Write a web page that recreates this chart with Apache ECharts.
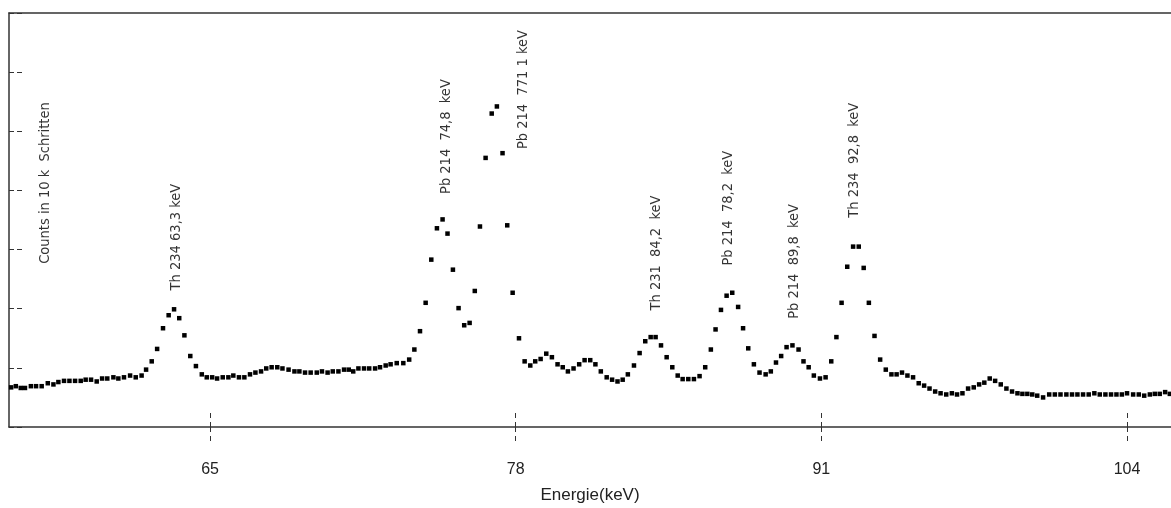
<!DOCTYPE html>
<html>
<head>
<meta charset="utf-8">
<script src="https://cdn.jsdelivr.net/npm/echarts@6/dist/echarts.min.js"></script>
<style>
html,body{margin:0;padding:0;background:#fff;}
#chart{width:1171px;height:508px;}
</style>
</head>
<body>
<div id="chart"></div>
<script>
const energies = [
  56.54,56.74,56.95,57.13,57.38,57.60,57.84,58.10,58.34,58.55,58.79,59.02,59.26,59.50,59.71,59.94,60.18,60.41,60.63,60.89,
  61.10,61.34,61.60,61.84,62.09,62.28,62.52,62.75,63.00,63.24,63.47,63.69,63.91,64.16,64.40,64.65,64.86,65.09,65.30,65.54,
  65.78,65.99,66.23,66.46,66.70,66.93,67.17,67.39,67.62,67.86,68.08,68.34,68.59,68.80,69.04,69.28,69.54,69.76,70.00,70.22,
  70.46,70.70,70.90,71.09,71.31,71.55,71.77,72.02,72.23,72.47,72.68,72.94,73.22,73.47,73.69,73.93,74.17,74.41,74.65,74.89,
  75.10,75.33,75.57,75.81,76.04,76.26,76.48,76.72,76.98,77.20,77.44,77.64,77.87,78.14,78.38,78.62,78.83,79.06,79.30,79.54,
  79.78,80.00,80.22,80.46,80.70,80.93,81.17,81.39,81.62,81.87,82.10,82.33,82.55,82.77,83.03,83.27,83.51,83.74,83.95,84.18,
  84.42,84.66,84.89,85.10,85.34,85.58,85.82,86.06,86.30,86.50,86.73,86.97,87.21,87.46,87.67,87.89,88.13,88.37,88.63,88.85,
  89.07,89.29,89.52,89.77,90.03,90.24,90.46,90.68,90.94,91.18,91.42,91.64,91.86,92.10,92.35,92.59,92.80,93.02,93.26,93.50,
  93.74,93.98,94.20,94.43,94.66,94.90,95.14,95.37,95.60,95.84,96.07,96.31,96.55,96.77,97.00,97.24,97.48,97.71,97.93,98.16,
  98.39,98.63,98.87,99.11,99.34,99.55,99.76,99.97,100.18,100.43,100.69,100.93,101.17,101.42,101.66,101.89,102.13,102.37,102.61,102.84,
  103.08,103.32,103.55,103.78,104.00,104.26,104.50,104.73,104.97,105.18,105.39,105.62,105.82
];
// Counts in 10 k steps
const counts = [
  0.67,0.69,0.66,0.66,0.69,0.69,0.69,0.74,0.72,0.76,0.78,0.78,0.78,0.78,0.80,0.80,0.77,0.82,0.82,0.84,
  0.82,0.84,0.87,0.84,0.87,0.97,1.11,1.32,1.67,1.89,1.99,1.84,1.55,1.20,1.03,0.89,0.84,0.84,0.82,0.84,
  0.84,0.87,0.84,0.84,0.89,0.92,0.94,0.99,1.01,1.01,0.99,0.97,0.94,0.94,0.92,0.92,0.92,0.94,0.92,0.94,
  0.94,0.97,0.97,0.94,0.99,0.99,0.99,0.99,1.01,1.04,1.06,1.08,1.08,1.14,1.31,1.62,2.10,2.83,3.36,3.51,
  3.27,2.66,2.01,1.72,1.76,2.30,3.39,4.55,5.30,5.42,4.63,3.41,2.27,1.50,1.11,1.04,1.11,1.15,1.24,1.18,
  1.06,1.01,0.94,0.99,1.06,1.13,1.13,1.06,0.94,0.84,0.80,0.77,0.80,0.89,1.04,1.25,1.45,1.52,1.52,1.38,
  1.18,1.01,0.87,0.81,0.81,0.81,0.86,1.01,1.31,1.65,1.98,2.22,2.27,2.03,1.67,1.33,1.06,0.92,0.89,0.94,
  1.09,1.20,1.35,1.38,1.31,1.11,1.01,0.87,0.82,0.84,1.11,1.52,2.10,2.71,3.05,3.05,2.69,2.10,1.54,1.14,
  0.97,0.89,0.89,0.92,0.87,0.84,0.74,0.70,0.65,0.60,0.57,0.55,0.57,0.55,0.57,0.65,0.67,0.72,0.75,0.82,
  0.78,0.72,0.65,0.60,0.57,0.56,0.56,0.55,0.53,0.50,0.55,0.55,0.55,0.55,0.55,0.55,0.55,0.55,0.57,0.55,
  0.55,0.55,0.55,0.55,0.57,0.55,0.55,0.53,0.55,0.56,0.56,0.59,0.56
];
// x tick values
const xTicks = [65, 78, 91, 104];
// Annotations: text, energy of the text column, level where the text begins
const noteTexts = [
  'Counts in 10 k  Schritten',
  'Th 234 63,3 keV',
  'Pb 214  74,8  keV',
  'Pb 214  771 1 keV',
  'Th 231  84,2  keV',
  'Pb 214  78,2  keV',
  'Pb 214  89,8  keV',
  'Th 234  92,8  keV'
];
const noteEnergies = [57.98, 63.55, 75.03, 78.31, 83.96, 87.02, 89.83, 92.38];
const noteLevels   = [2.76, 2.31, 3.94, 4.70, 1.97, 2.73, 1.83, 3.54];

const points = energies.map((e, i) => [e, counts[i]]);
const notes = noteTexts.map((t, i) => ({ value: [noteEnergies[i], noteLevels[i]], name: t }));

const AX = '#333';
const dashTick = { color: AX, width: 1, type: [5, 4] };

const chart = echarts.init(document.getElementById('chart'), null, { renderer: 'canvas' });
chart.setOption({
  animation: false,
  backgroundColor: '#fff',
  grid: { left: 9, right: 0, top: 13, bottom: 81, containLabel: false, outerBoundsMode: 'none' },
  xAxis: [
    {
      type: 'value', position: 'bottom', min: 56.45, max: 105.87,
      name: 'Energie(keV)', nameLocation: 'middle', nameGap: 60,
      nameTextStyle: { fontFamily: 'Liberation Sans, Arial, sans-serif', fontSize: 17, color: '#222' },
      axisLine: { show: true, lineStyle: { color: AX, width: 1.5 } },
      axisTick: { show: true, inside: false, length: 15, customValues: xTicks, lineStyle: dashTick },
      axisLabel: { show: true, customValues: xTicks, margin: 35, fontFamily: 'Liberation Sans, Arial, sans-serif', fontSize: 16, color: '#222' },
      splitLine: { show: false }
    },
    {
      type: 'value', position: 'bottom', min: 56.45, max: 105.87,
      axisLine: { show: false },
      axisTick: { show: true, inside: true, length: 15, customValues: xTicks, lineStyle: dashTick },
      axisLabel: { show: false },
      splitLine: { show: false }
    },
    {
      type: 'value', position: 'top', min: 56.45, max: 105.87,
      axisLine: { show: true, lineStyle: { color: AX, width: 1.5 } },
      axisTick: { show: false }, axisLabel: { show: false }, splitLine: { show: false }
    }
  ],
  yAxis: {
    type: 'value', min: 0, max: 7, interval: 1,
    axisLine: { show: true, lineStyle: { color: AX, width: 1.5 } },
    axisTick: { show: true, inside: true, length: 13, lineStyle: { color: AX, width: 1, type: [5, 3] } },
    axisLabel: { show: false },
    splitLine: { show: false }
  },
  series: [
    {
      type: 'scatter', xAxisIndex: 0, data: points,
      symbol: 'rect', symbolSize: 4.5,
      itemStyle: { color: '#000', opacity: 1 }
    },
    {
      type: 'scatter', xAxisIndex: 0, data: notes,
      symbolSize: 0, silent: true,
      label: {
        show: true, position: 'inside', rotate: 90,
        align: 'left', verticalAlign: 'middle',
        formatter: p => p.name,
        fontFamily: "'DejaVu Sans Condensed', 'Liberation Sans Narrow', 'Arial Narrow', sans-serif",
        fontSize: 14.5, color: '#000'
      }
    }
  ]
});
</script>
</body>
</html>
